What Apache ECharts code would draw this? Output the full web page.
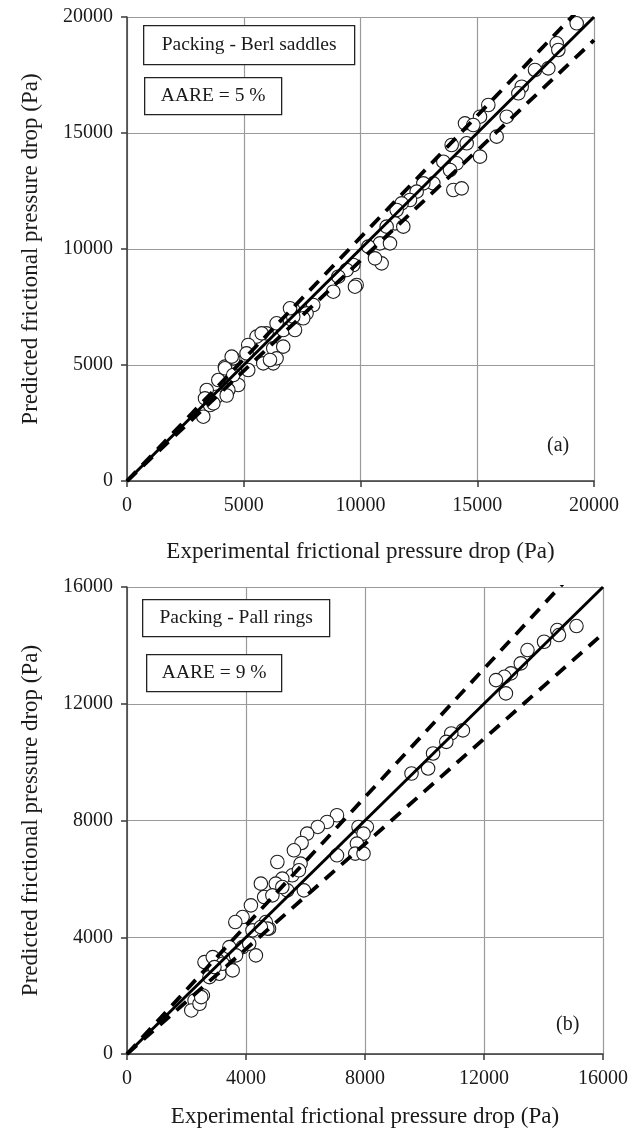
<!DOCTYPE html>
<html>
<head>
<meta charset="utf-8">
<script src="https://cdn.jsdelivr.net/npm/echarts@6/dist/echarts.min.js"></script>
<style>
html,body{margin:0;padding:0;background:#fff;}
#chart{width:636px;height:1135px;}
</style>
</head>
<body>
<div id="chart"></div>
<script>
// ---- Data ----
const xAxisName = 'Experimental frictional pressure drop (Pa)';
const yAxisName = 'Predicted frictional pressure drop (Pa)';
const berlLabel = 'Packing - Berl saddles';
const berlAare = 'AARE = 5 %';
const pallLabel = 'Packing - Pall rings';
const pallAare = 'AARE = 9 %';
const panelA = '(a)';
const panelB = '(b)';

const berlAxisMax = 20000, berlTickStep = 5000, berlBand = 0.05;
const pallAxisMax = 16000, pallTickStep = 4000, pallBand = 0.10;

// Berl saddles: [experimental, predicted]
const berlPoints = [
  [19259,19728],[18402,18866],[18473,18578],[17473,17716],[18044,17787],[16904,16996],[16760,16711],
  [15474,16207],[15118,15703],[16261,15703],[14475,15417],[14831,15345],[15831,14842],[13905,14483],
  [14547,14555],[15118,13980],[14119,13693],[13548,13764],[13833,13405],[13119,12830],[12691,12830],
  [13976,12543],[14333,12615],[12405,12471],[12119,12112],[11762,11968],[11548,11681],[11477,11106],
  [11120,10963],[11833,10963],[10834,10244],[11263,10244],[10905,9382],[10620,9598],[10334,10101],
  [9834,8448],[9762,8376],[8834,8160],[9691,9310],[9406,9095],[9049,8807],[7976,7586],[7690,7227],
  [7120,7371],[6977,6940],[6691,6509],[6406,6797],[5977,6365],[5549,6221],[5192,5862],[5120,5503],
  [6263,5718],[6691,5790],[6263,5072],[5835,5072],[6406,5287],[4550,5287],[4196,4928],[5192,4784],
  [4763,4138],[4339,3922],[3910,4353],[3840,3634],[3413,3922],[3340,3562],[3554,3276],[3268,2772],
  [7548,7012],[7120,7084],[6981,7443],[7195,6509],[5768,6365],[6124,5216],[4484,5359],[4197,4857],
  [4270,3685],[3698,3349],[4552,4569]
];

// Pall rings: [experimental, predicted]
const pallPoints = [
  [15108,14662],[14463,14525],[14520,14353],[14019,14124],[13461,13839],[13237,13383],[12903,13040],
  [12683,12923],[12403,12810],[12736,12354],[11290,11087],[10900,10982],[10733,10694],[10288,10296],
  [10121,9782],[9563,9610],[7058,8180],[6724,7950],[6413,7779],[6056,7552],[5868,7230],[5611,6979],
  [5054,6578],[5835,6523],[5555,6122],[5221,6009],[5000,5837],[4499,5837],[4610,5378],[4165,5093],
  [3885,4692],[3641,4520],[4219,4236],[4775,4294],[4665,4520],[3440,3663],[3885,3663],[3664,3378],
  [2605,3149],[3050,3207],[3440,2977],[3106,2750],[2772,2634],[2549,2006],[2271,1835],[2161,1492],
  [2438,1721],[7783,7779],[8061,7779],[7950,7552],[7727,7209],[7672,6866],[7950,6866],[7058,6808],
  [5945,5607],[5387,5607],[4887,5436],[4720,4294],[5779,6294],[5221,5721],[2883,3320],[3217,3093],
  [2940,2977],[3551,2864],[2495,1948],[4332,3378],[4108,3779],[4499,4349]
];

// ---- Styles ----
const FONT = '"Liberation Serif", "Times New Roman", serif';
const TXT = '#1a1a1a';

function axisCommon(max, step, name, isY, gap) {
  return {
    type: 'value', min: 0, max: max, interval: step,
    name: name, nameLocation: 'middle', nameGap: gap,
    nameTextStyle: { fontFamily: FONT, fontSize: 23, color: TXT },
    axisLine: { show: true, onZero: false, lineStyle: { color: '#3a3a3a', width: 1.5 } },
    axisTick: { show: true, inside: false, length: 6, lineStyle: { color: '#3a3a3a', width: 1.5 } },
    splitLine: { show: true, lineStyle: { color: '#9a9a9a', width: 1.2 } },
    axisLabel: { fontFamily: FONT, fontSize: 20, color: TXT, margin: isY ? 14 : 15,
                 formatter: function (v) { return String(v); } }
  };
}

function lineSeries(idx, max, ratio, dashed) {
  return {
    type: 'line', xAxisIndex: idx, yAxisIndex: idx, symbol: 'none', clip: true, z: 5,
    silent: true, animation: false,
    data: [[0, 0], [max, max * ratio]],
    lineStyle: { color: '#000', width: dashed ? 3.8 : 3, type: dashed ? [13, 9] : 'solid', cap: 'butt' }
  };
}

function scatterSeries(idx, pts) {
  return {
    type: 'scatter', xAxisIndex: idx, yAxisIndex: idx, symbol: 'circle', symbolSize: 13.5, z: 3,
    animation: false, data: pts,
    itemStyle: { color: '#ffffff', borderColor: '#1e1e1e', borderWidth: 1.1, opacity: 1 }
  };
}

function box(x, y, w, h, text) {
  return {
    type: 'group', left: x, top: y, z: 100, children: [
      { type: 'rect', z: 100, shape: { x: 0, y: 0, width: w, height: h },
        style: { fill: '#fff', stroke: '#222', lineWidth: 1.3 } },
      { type: 'text', z: 101, x: w / 2, y: h / 2,
        style: { text: text, font: '19.5px ' + FONT, fill: TXT, textAlign: 'center', textVerticalAlign: 'middle' } }
    ]
  };
}

const chart = echarts.init(document.getElementById('chart'), null, { renderer: 'canvas' });
chart.setOption({
  backgroundColor: '#ffffff',
  animation: false,
  grid: [
    { left: 127, top: 17, width: 467, height: 464 },
    { left: 127, top: 587, width: 476, height: 467 }
  ],
  xAxis: [
    Object.assign(axisCommon(berlAxisMax, berlTickStep, xAxisName, false, 59), { gridIndex: 0 }),
    Object.assign(axisCommon(pallAxisMax, pallTickStep, xAxisName, false, 51), { gridIndex: 1 })
  ],
  yAxis: [
    Object.assign(axisCommon(berlAxisMax, berlTickStep, yAxisName, true, 85), { gridIndex: 0 }),
    Object.assign(axisCommon(pallAxisMax, pallTickStep, yAxisName, true, 85), { gridIndex: 1 })
  ],
  series: [
    scatterSeries(0, berlPoints),
    lineSeries(0, berlAxisMax, 1, false),
    lineSeries(0, berlAxisMax, 1 + berlBand, true),
    lineSeries(0, berlAxisMax, 1 - berlBand, true),
    scatterSeries(1, pallPoints),
    lineSeries(1, pallAxisMax, 1, false),
    lineSeries(1, pallAxisMax, 1 + pallBand, true),
    lineSeries(1, pallAxisMax, 1 - pallBand, true)
  ],
  graphic: [
    box(143, 25, 211, 39, berlLabel),
    box(144, 77, 137, 37, berlAare),
    box(142, 599, 187, 37, pallLabel),
    box(146, 654, 135, 37, pallAare),
    { type: 'text', left: 547, top: 436, z: 100, style: { text: panelA, font: '20px ' + FONT, fill: TXT } },
    { type: 'text', left: 556, top: 1015, z: 100, style: { text: panelB, font: '20px ' + FONT, fill: TXT } }
  ]
});
</script>
</body>
</html>
